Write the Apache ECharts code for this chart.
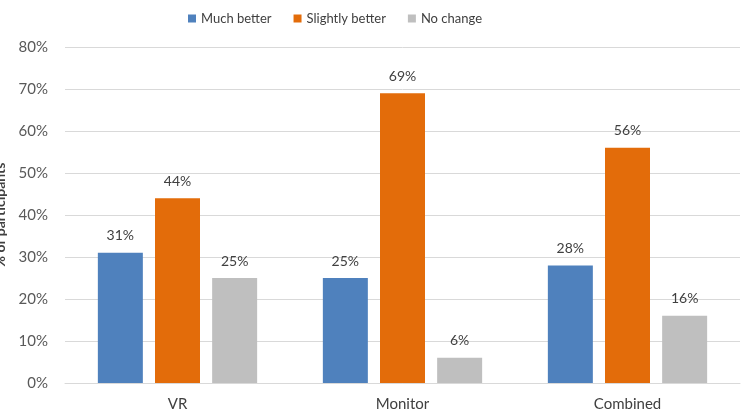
<!DOCTYPE html>
<html>
<head>
<meta charset="utf-8">
<script src="https://cdn.jsdelivr.net/npm/echarts@6/dist/echarts.min.js"></script>
<style>
    html, body { margin: 0; padding: 0; background: #fff; }
    #chart { width: 746px; height: 415px; }
</style>
</head>
<body>
<div id="chart"></div>
<script>
// data
const categories = ['VR', 'Monitor', 'Combined'];
const muchBetter = [31, 25, 28];
const slightlyBetter = [44, 69, 56];
const noChange = [25, 6, 16];
const seriesNames = ['Much better', 'Slightly better', 'No change'];
const colors = ['#4f81bd', '#e36c0a', '#bfbfbf'];

const font = 'Lato';

function barSeries(name, values, color) {
    return {
        name: name,
        type: 'bar',
        data: values,
        barWidth: 45,
        barGap: '27%',
        itemStyle: { color: color },
        label: {
            show: true,
            position: 'top',
            distance: 10,
            formatter: '{c}%',
            color: '#404040',
            fontSize: 14,
            fontFamily: font
        }
    };
}

const myChart = echarts.init(document.getElementById('chart'));
const option = {
    animation: false,
    color: colors,
    legend: {
        top: 7,
        left: 183,
        itemWidth: 8,
        itemHeight: 8,
        itemGap: 22,
        icon: 'rect',
        textStyle: { color: '#404040', fontSize: 13, fontFamily: font },
        data: seriesNames
    },
    grid: { left: 65, right: 6, top: 47, bottom: 32, containLabel: false, outerBoundsMode: 'none' },
    xAxis: {
        type: 'category',
        data: categories,
        axisLine: { lineStyle: { color: '#d9d9d9' } },
        axisTick: { show: false },
        axisLabel: { color: '#404040', fontSize: 15, fontFamily: font, margin: 14 }
    },
    yAxis: {
        type: 'value',
        min: 0,
        max: 80,
        interval: 10,
        name: '% of participants',
        nameLocation: 'middle',
        nameGap: 57,
        nameTextStyle: { color: '#404040', fontSize: 14, fontWeight: 'bold', fontFamily: font },
        axisLabel: { formatter: '{value}%', color: '#595959', fontSize: 15, fontFamily: font, margin: 17 },
        splitLine: { lineStyle: { color: '#d9d9d9' } },
        axisLine: { show: false },
        axisTick: { show: false }
    },
    series: [
        barSeries(seriesNames[0], muchBetter, colors[0]),
        barSeries(seriesNames[1], slightlyBetter, colors[1]),
        barSeries(seriesNames[2], noChange, colors[2])
    ]
};
myChart.setOption(option);
</script>
</body>
</html>
